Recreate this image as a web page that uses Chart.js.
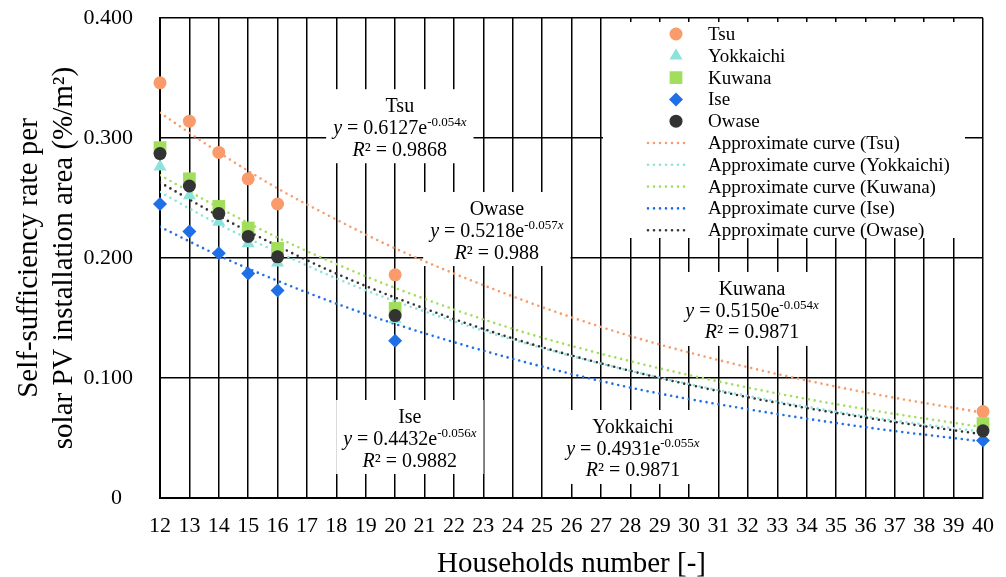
<!DOCTYPE html>
<html><head><meta charset="utf-8">
<script src="https://cdn.jsdelivr.net/npm/chart.js@4"></script>
<style>html,body{margin:0;padding:0;background:#fff}#wrap{width:1006px;height:577px;position:relative}</style>
</head><body><div id="wrap"><canvas id="c"></canvas></div>
<script>
// ---- data ----
const households = [12, 13, 14, 15, 16, 20, 40];
const tsu       = [0.346, 0.314, 0.288, 0.266, 0.245, 0.186, 0.072];
const yokkaichi = [0.276, 0.252, 0.230, 0.212, 0.196, 0.149, 0.058];
const kuwana    = [0.292, 0.266, 0.243, 0.225, 0.208, 0.158, 0.062];
const ise       = [0.245, 0.222, 0.204, 0.187, 0.173, 0.131, 0.048];
const owase     = [0.287, 0.260, 0.237, 0.218, 0.201, 0.152, 0.056];

const curveX         = [12, 14, 16, 18, 20, 24, 28, 32, 36, 40];
const curveTsu       = [0.321, 0.288, 0.258, 0.232, 0.208, 0.168, 0.135, 0.109, 0.088, 0.071];
const curveYokkaichi = [0.255, 0.228, 0.205, 0.183, 0.164, 0.132, 0.106, 0.085, 0.068, 0.055];
const curveKuwana    = [0.269, 0.242, 0.217, 0.195, 0.175, 0.141, 0.114, 0.092, 0.074, 0.059];
const curveIse       = [0.226, 0.202, 0.181, 0.162, 0.145, 0.116, 0.092, 0.074, 0.059, 0.047];
const curveOwase     = [0.263, 0.235, 0.210, 0.187, 0.167, 0.133, 0.106, 0.084, 0.067, 0.053];

const seriesNames = ['Tsu', 'Yokkaichi', 'Kuwana', 'Ise', 'Owase'];
const eqNames = ['Tsu', 'Owase', 'Kuwana', 'Ise', 'Yokkaichi'];
const eqCoef  = ['0.6127', '0.5218', '0.5150', '0.4432', '0.4931'];
const eqExp   = ['-0.054', '-0.057', '-0.054', '-0.056', '-0.055'];
const eqR2    = ['0.9868', '0.988', '0.9871', '0.9882', '0.9871'];

const yTickValues = [0, 0.1, 0.2, 0.3, 0.4];

// ---- styling / layout ----
const FONT = "'Liberation Serif', 'Times New Roman', serif";
const colors = {Tsu:'#F99B6A', Yokkaichi:'#8CE3DC', Kuwana:'#A1DE5C', Ise:'#1F6FE6', Owase:'#333333'};
const pointStyles = {Tsu:['circle',6.5], Yokkaichi:['triangle',7.5], Kuwana:['rect',9], Ise:['rectRot',7], Owase:['circle',6.5]};
const drawOrder = {Tsu:5, Yokkaichi:4, Kuwana:3, Ise:2, Owase:1};
// label anchors in data units (x, y of equation line)
const eqAnchors = [[20.16,0.309],[23.46,0.2233],[32.14,0.1567],[20.5,0.05],[28.09,0.0417]];

const pointSeries = [tsu, yokkaichi, kuwana, ise, owase];
const curveSeries = [curveTsu, curveYokkaichi, curveKuwana, curveIse, curveOwase];

const datasets = [];
seriesNames.forEach((n, i) => {
  datasets.push({
    label: n, kind: 'point',
    data: households.map((x, j) => ({x, y: pointSeries[i][j]})),
    showLine: false, clip: false,
    pointStyle: pointStyles[n][0], pointRadius: pointStyles[n][1],
    backgroundColor: colors[n], borderColor: colors[n], pointBorderWidth: 0,
    order: drawOrder[n]
  });
});
seriesNames.forEach((n, i) => {
  datasets.push({
    label: 'Approximate curve (' + n + ')', kind: 'curve',
    data: curveX.map((x, j) => ({x, y: curveSeries[i][j]})),
    showLine: true, pointRadius: 0, borderColor: colors[n], backgroundColor: colors[n],
    borderWidth: 2.6, borderDash: [0, 6], borderCapStyle: 'round',
    cubicInterpolationMode: 'monotone', fill: false, order: 10 + i
  });
});

function drawRuns(ctx, runs, cx, y) {
  let w = 0;
  runs.forEach(r => { ctx.font = r.f; w += ctx.measureText(r.t).width; });
  let x = cx - w / 2;
  runs.forEach(r => {
    ctx.font = r.f;
    ctx.fillText(r.t, x, y + (r.dy || 0));
    x += ctx.measureText(r.t).width;
  });
  return w;
}

const overlay = {
  id: 'overlay',
  beforeDatasetsDraw(chart) {
    const ctx = chart.ctx, xs = chart.scales.x, ys = chart.scales.y;
    ctx.save();
    ctx.textBaseline = 'alphabetic';
    ctx.textAlign = 'left';
    // legend
    ctx.fillStyle = '#fff';
    ctx.fillRect(603, 22, 362, 216);
    chart.data.datasets.forEach((ds, i) => {
      const y = 34 + i * 21.8;
      if (ds.kind === 'point') {
        ctx.fillStyle = ds.backgroundColor;
        Chart.helpers.drawPoint(ctx, {pointStyle: ds.pointStyle, radius: ds.pointRadius, rotation: 0, borderWidth: 0}, 676, y);
      } else {
        ctx.save();
        ctx.strokeStyle = ds.borderColor; ctx.lineWidth = ds.borderWidth;
        ctx.setLineDash(ds.borderDash); ctx.lineCap = 'round';
        ctx.beginPath(); ctx.moveTo(648, y); ctx.lineTo(690, y); ctx.stroke();
        ctx.restore();
      }
      ctx.fillStyle = '#000';
      ctx.font = '19px ' + FONT;
      ctx.textBaseline = 'middle';
      ctx.fillText(ds.label, 708, y + 1);
      ctx.textBaseline = 'alphabetic';
    });
    // equation labels
    const F = '20px ' + FONT, FI = 'italic 20px ' + FONT, FS = '13px ' + FONT, FSI = 'italic 13px ' + FONT;
    eqNames.forEach((n, i) => {
      const cx = xs.getPixelForValue(eqAnchors[i][0]);
      const cy = ys.getPixelForValue(eqAnchors[i][1]);
      const l1 = [{t: n, f: F}];
      const l2 = [{t: 'y', f: FI}, {t: ' = ' + eqCoef[i] + 'e', f: F}, {t: eqExp[i], f: FS, dy: -8}, {t: 'x', f: FSI, dy: -8}];
      const l3 = [{t: 'R', f: FI}, {t: '² = ' + eqR2[i], f: F}];
      let w = 0;
      [l1, l2, l3].forEach(l => { let s = 0; l.forEach(r => { ctx.font = r.f; s += ctx.measureText(r.t).width; }); w = Math.max(w, s); });
      ctx.fillStyle = '#fff';
      ctx.fillRect(cx - w / 2 - 7, cy - 38, w + 14, 74);
      ctx.fillStyle = '#000';
      drawRuns(ctx, l1, cx, cy - 22 + 7);
      drawRuns(ctx, l2, cx, cy + 7);
      drawRuns(ctx, l3, cx, cy + 21.5 + 7);
    });
    ctx.restore();
  }
};

new Chart(document.getElementById('c'), {
  type: 'scatter',
  data: {datasets},
  options: {
    responsive: true, maintainAspectRatio: false, animation: false,
    layout: {padding: {left: 0, top: 18, right: 23, bottom: 0}},
    plugins: {legend: {display: false}, tooltip: {enabled: false}},
    scales: {
      x: {
        type: 'linear', min: 12, max: 40,
        afterFit(s) { s.height = 79; s.paddingLeft = 0; s.paddingRight = 0; },
        ticks: {stepSize: 1, color: '#000', font: {family: FONT, size: 22}, padding: 15, maxRotation: 0, autoSkip: false},
        grid: {color: '#000', lineWidth: 1.5, drawTicks: false},
        border: {color: '#000', width: 2},
        title: {display: true, text: 'Households number [-]', color: '#000', font: {family: FONT, size: 29, lineHeight: 1.2}, padding: {top: 0, bottom: -5}}
      },
      y: {
        min: 0, max: 0.4,
        afterFit(s) { s.width = 160; s.paddingTop = 0; s.paddingBottom = 0; },
        afterBuildTicks(s) { s.ticks = yTickValues.map(v => ({value: v})); },
        ticks: {color: '#000', font: {family: FONT, size: 22}, padding: 27,
          callback: v => v === 0 ? '0\u2002' : v.toFixed(3)},
        grid: {color: '#000', lineWidth: 1.5, drawTicks: false},
        border: {color: '#000', width: 2},
        title: {display: true, text: ['Self-sufficiency rate per', 'solar PV installation area (%/m²)'], color: '#000', font: {family: FONT, size: 29, lineHeight: 1.2}, padding: {top: 12, bottom: 0}}
      }
    }
  },
  plugins: [overlay]
});
</script></body></html>
